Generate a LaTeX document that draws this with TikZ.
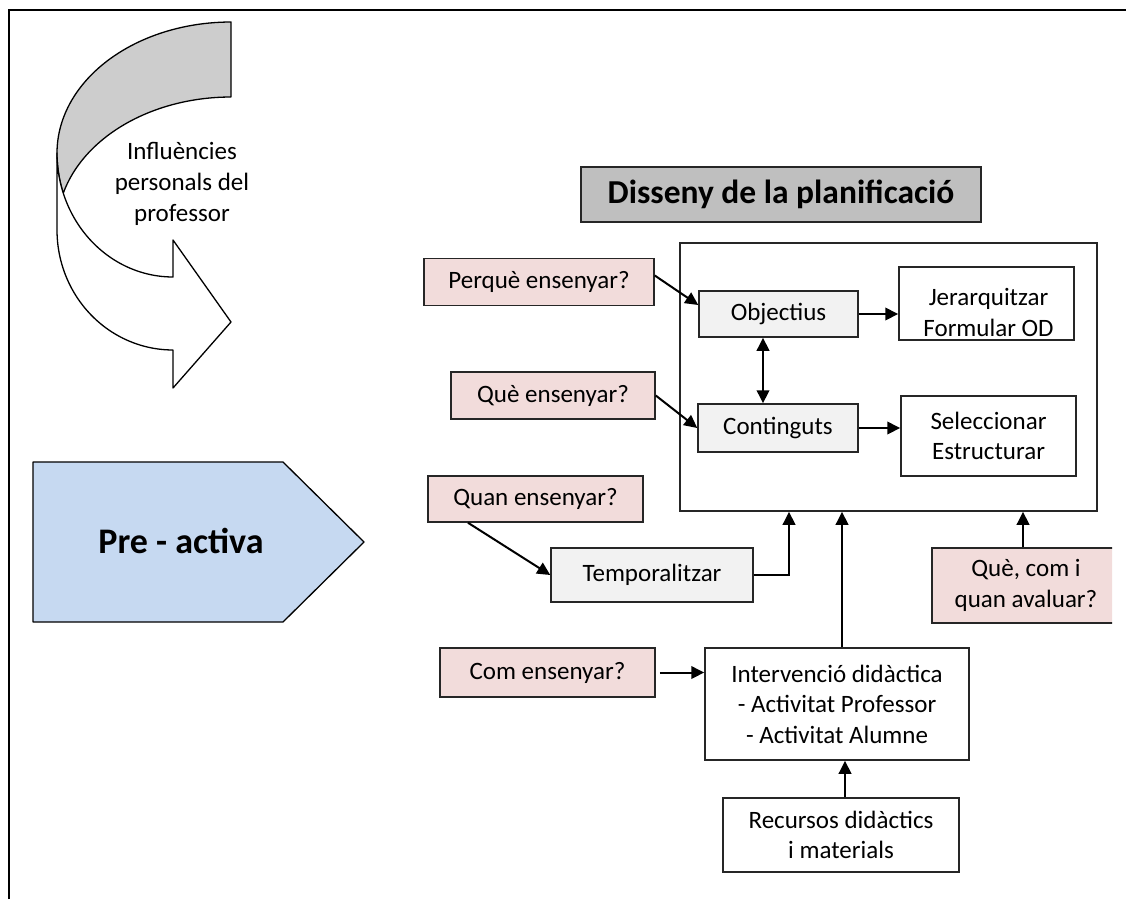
\documentclass[tikz,border=0pt]{standalone}
\usepackage{fontspec}
\setmainfont{Carlito}
\usetikzlibrary{arrows.meta,calc}
\definecolor{pinkq}{HTML}{F2DCDB}
\definecolor{paleg}{HTML}{F2F2F2}
\definecolor{titleg}{HTML}{BFBFBF}
\definecolor{phaseblue}{HTML}{C6D9F1}
\definecolor{bandg}{HTML}{CDCDCD}
\tikzset{
  bx/.style={draw=black!85, line width=1.5pt, inner sep=0pt, align=center,
             font=\fontsize{25}{30.5}\selectfont},
  askbox/.style={bx, fill=pinkq},
  stagebox/.style={bx, fill=paleg},
  taskbox/.style={bx, fill=white},
  titlebox/.style={bx, fill=titleg, line width=1.8pt, font=\bfseries\fontsize{33.5}{40}\selectfont},
  sz/.style 2 args={minimum width=#1, minimum height=#2},
  conn/.style={line width=2pt, -{Triangle[length=13pt,width=12.5pt]}},
  twoway/.style={line width=2pt, {Triangle[length=13pt,width=12.5pt]}-{Triangle[length=13pt,width=12.5pt]}},
  shapeline/.style={draw=black, line width=1.3pt, line join=round},
}
\begin{document}
\begin{tikzpicture}[x=1pt,y=-1pt]
\useasboundingbox (0,0) rectangle (1126,899);

% outer frame (top and left edges)
\draw[line width=2.2pt] (9,899) -- (9,10) -- (1126,10);

% curved arrow: shaded back of the band
\filldraw[shapeline, fill=bandg]
  plot[domain=270:180, samples=50] ({231+174*cos(\x)},{153+131*sin(\x)})
  -- plot[domain=180:161, samples=8] ({173+116*cos(\x)},{153+124*sin(\x)})
  -- plot[domain=195.5:270, samples=50] ({231+174*cos(\x)},{228+131*sin(\x)})
  -- cycle;
% curved arrow: front of the band with its head
\filldraw[shapeline, fill=white]
  (57,153) -- (57,230)
  -- plot[domain=180:90, samples=50] ({173+116*cos(\x)},{230+120*sin(\x)})
  -- (173,388) -- (231,322) -- (173,240) -- (173,277)
  -- plot[domain=90:180, samples=50] ({173+116*cos(\x)},{153+124*sin(\x)})
  -- cycle;
\node[align=center, font=\fontsize{25}{31}\selectfont] (infl) at (182,184)
  {Influències\\personals del\\professor};

% phase pentagon
\filldraw[shapeline, fill=phaseblue]
  (33,462) -- (283,462) -- (364,542) -- (283,622) -- (33,622) -- cycle;
\node[font=\bfseries\fontsize{36}{43}\selectfont] (phase) at (181,541) {Pre - activa};

% title
\node[titlebox, sz={400pt}{55pt}] (title) at (781,194.5) {Disseny de la planificació};

% planning frame
\node[taskbox, sz={417pt}{268pt}] (plan) at (888.5,377) {};

% inner boxes
\node[stagebox, sz={159pt}{46pt}] (obj) at (778.5,314) {Objectius};
\node[taskbox, sz={175pt}{73pt}] (jer) at (986.5,303.5) {};
\node[align=center, font=\fontsize{25}{30.5}\selectfont] (jertxt) at ($(jer)+(2,9)$)
  {Jerarquitzar\\Formular OD};
\node[stagebox, sz={160pt}{48pt}] (cont) at (778,428) {Continguts};
\node[taskbox, sz={175pt}{80pt}] (sel) at (988.5,436) {Seleccionar\\Estructurar};

% questions
\node[askbox, sz={230pt}{47pt}] (perq) at (539,282) {Perquè ensenyar?};
\node[askbox, sz={204pt}{47pt}] (que) at (553,395.5) {Què ensenyar?};
\node[askbox, sz={215pt}{46pt}] (quan) at (535.5,499) {Quan ensenyar?};
\node[askbox, sz={215pt}{49pt}] (com) at (547.5,672.5) {Com ensenyar?};
\begin{scope}
  \clip (920,540) rectangle (1112,632);
  \node[askbox, sz={188pt}{75pt}] (aval) at (1026,585.5) {Què, com i\\quan avaluar?};
\end{scope}

% lower boxes
\node[stagebox, sz={202pt}{54pt}] (temp) at (652,575) {Temporalitzar};
\node[taskbox, sz={264pt}{112pt}] (int) at (837,704)
  {Intervenció didàctica\\- Activitat Professor\\- Activitat Alumne};
\node[taskbox, sz={236pt}{74pt}] (rec) at (841,835) {Recursos didàctics\\i materials};

% anchor points for the vertical connectors
\coordinate (objfoot) at ($(obj.south)+(-15.5,0)$);
\coordinate (quanfoot) at ($(quan.south)+(-67.5,0)$);
\coordinate (tempin) at ($(plan.south)+(-99.5,0)$);
\coordinate (inttop) at ($(int.north)+(5,0)$);
\coordinate (avaltop) at ($(aval.north)+(-3,0)$);
\coordinate (comout) at ($(com.east)+(4,0)$);
\coordinate (rectop) at ($(rec.north)+(4,0)$);
\coordinate (perqout) at ($(perq.east)+(0,-6.5)$);
\coordinate (objin) at ($(obj.west)+(0,-9)$);

% connectors
\draw[conn] (perqout) -- (objin);
\draw[conn] (obj.east) -- (jer.west |- obj.east);
\draw[twoway] (objfoot) -- (objfoot |- cont.north);
\draw[conn] (que.east) -- (cont.west);
\draw[conn] (cont.east) -- (sel.west |- cont.east);
\draw[conn] (quanfoot) -- (temp.west);
\draw[conn] (temp.east) -| (tempin);
\draw[conn] (inttop) -- (inttop |- plan.south);
\draw[conn] (avaltop) -- (avaltop |- plan.south);
\draw[conn] (comout) -- (int.west |- comout);
\draw[conn] (rectop) -- (rectop |- int.south);
\end{tikzpicture}
\end{document}
